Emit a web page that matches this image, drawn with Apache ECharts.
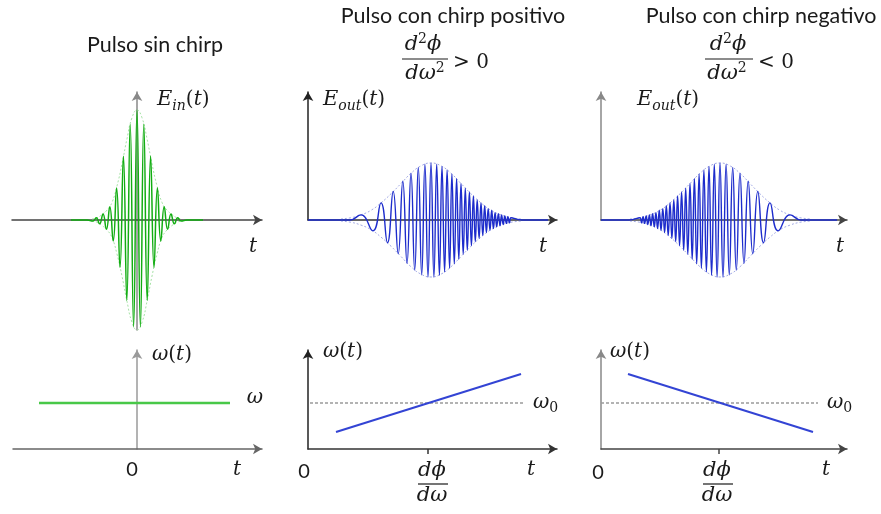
<!DOCTYPE html>
<html><head><meta charset="utf-8">
<script src="https://cdn.jsdelivr.net/npm/echarts@6/dist/echarts.min.js"></script>
<style>html,body{margin:0;padding:0;background:#fff}#c{width:881px;height:514px}</style>
</head><body><div id="c"></div>
<script>
// ===== DATA =====
// Pulse without chirp: times of oscillation extrema and signed amplitudes
const inT = [-66, -50, -44.2, -40.8, -37.4, -34.0, -30.6, -27.2, -23.8, -20.4, -17.0, -13.6, -10.2, -6.8, -3.4, 0, 3.4, 6.8, 10.2, 13.6, 17.0, 20.4, 23.8, 27.2, 30.6, 34.0, 37.4, 40.8, 44.2, 50, 66];
const inE = [0, 0, -0.01, 0.02, -0.035, 0.055, -0.085, 0.12, -0.19, 0.29, -0.43, 0.58, -0.73, 0.87, -0.97, 1.00, -0.97, 0.87, -0.73, 0.58, -0.43, 0.29, -0.19, 0.12, -0.085, 0.055, -0.035, 0.02, -0.01, 0, 0];
const inEnvT = [-45, -40, -35, -30, -25, -20, -15, -10, -5, 0, 5, 10, 15, 20, 25, 30, 35, 40, 45];
const inEnv = [0.01, 0.02, 0.05, 0.09, 0.16, 0.31, 0.51, 0.74, 0.93, 1.00, 0.93, 0.74, 0.51, 0.31, 0.16, 0.09, 0.05, 0.02, 0.01];

// Positive chirp pulse: extrema times and signed amplitudes
const posT = [0, 42, 53.0, 64.9, 73.0, 79.5, 85.2, 90.2, 94.8, 99.0, 103.0, 106.7, 110.3, 113.7, 116.9, 120.0, 123.0, 125.9, 128.7, 131.4, 134.0, 136.6, 139.1, 141.6, 143.9, 146.3, 148.6, 150.8, 153.0, 155.2, 157.3, 159.3, 161.4, 163.4, 165.4, 167.3, 169.2, 171.1, 173.0, 174.8, 176.7, 178.4, 180.2, 182.0, 183.7, 185.4, 187.1, 188.7, 190.4, 192.0, 193.6, 195.2, 196.8, 198.4, 199.9, 201.5, 203.0, 214, 240];
const posE = [0, 0, 0.09, -0.19, 0.30, -0.40, 0.50, -0.59, 0.68, -0.76, 0.82, -0.88, 0.92, -0.96, 0.98, -1.00, 1.00, -1.00, 0.98, -0.97, 0.94, -0.91, 0.88, -0.85, 0.81, -0.77, 0.73, -0.69, 0.64, -0.60, 0.56, -0.53, 0.49, -0.45, 0.42, -0.38, 0.35, -0.32, 0.30, -0.27, 0.25, -0.22, 0.20, -0.18, 0.17, -0.15, 0.13, -0.12, 0.11, -0.10, 0.09, -0.08, 0.07, -0.06, 0.06, -0.05, 0.04, 0, 0];
const posEnvT = [33, 43, 53, 63, 73, 83, 93, 103, 113, 123, 133, 143, 153, 163, 173, 183, 193, 203, 213];

// Negative chirp pulse: extrema times and signed amplitudes
const negT = [0, 28, 39.0, 40.5, 42.1, 43.6, 45.2, 46.8, 48.4, 50.0, 51.6, 53.3, 54.9, 56.6, 58.3, 60.0, 61.8, 63.6, 65.3, 67.2, 69.0, 70.9, 72.8, 74.7, 76.6, 78.6, 80.6, 82.7, 84.7, 86.8, 89.0, 91.2, 93.4, 95.7, 98.1, 100.4, 102.9, 105.4, 108.0, 110.6, 113.3, 116.1, 119.0, 122.0, 125.1, 128.3, 131.7, 135.3, 139.0, 143.0, 147.2, 151.8, 156.8, 162.5, 169.0, 177.1, 189.0, 200, 236];
const negE = [0, 0, 0.04, -0.05, 0.06, -0.06, 0.07, -0.08, 0.09, -0.10, 0.11, -0.12, 0.13, -0.15, 0.17, -0.18, 0.20, -0.22, 0.25, -0.27, 0.30, -0.32, 0.35, -0.38, 0.42, -0.45, 0.49, -0.53, 0.56, -0.60, 0.64, -0.69, 0.73, -0.77, 0.81, -0.85, 0.88, -0.91, 0.94, -0.97, 0.98, -1.00, 1.00, -1.00, 0.98, -0.96, 0.92, -0.88, 0.82, -0.76, 0.68, -0.59, 0.50, -0.40, 0.30, -0.19, 0.09, 0, 0];
const negEnvT = [29, 39, 49, 59, 69, 79, 89, 99, 109, 119, 129, 139, 149, 159, 169, 179, 189, 199, 209];
const chirpEnv = [0.02, 0.04, 0.09, 0.17, 0.30, 0.46, 0.64, 0.82, 0.95, 1.00, 0.95, 0.82, 0.64, 0.46, 0.30, 0.17, 0.09, 0.04, 0.02];

// Instantaneous frequency panels
const flatT = [-98, 93];      const flatW = [1, 1];
const upT = [28, 213];        const upW = [0.37, 1.63];
const upRefT = [2, 215];      const refW = [1, 1];
const downT = [27, 212];      const downW = [1.63, 0.37];
const downRefT = [0, 217];
const tickPos = [120, 118];   // position of dϕ/dω on the time axes

// ===== BUILD =====
const pair = (xs, ys) => xs.map((x, i) => [x, ys[i]]);
const neg = a => a.map(v => -v);

const GREEN = '#12ad12', GREEN_L = '#48c848', BLUE = '#1d2ccc', BLUE_L = '#3344d4';
const grids = [
  {left: 12, top: 92, width: 250, height: 238},
  {left: 308, top: 92, width: 249, height: 128},
  {left: 601, top: 92, width: 246, height: 128},
  {left: 13, top: 350, width: 249, height: 99},
  {left: 308, top: 350, width: 249, height: 99},
  {left: 601, top: 350, width: 246, height: 99}
];
const xr = [[-125, 125], [0, 249], [0, 246], [-124, 125], [0, 249], [0, 246]];
const yr = [[-1, 1.164], [0, 2.246], [0, 2.246], [0, 2.15], [0, 2.15], [0, 2.15]];
const xc = ['#444', '#333', '#444', '#666', '#333', '#444'];
const yc = ['#888', '#222', '#888', '#9a9a9a', '#222', '#888'];

function axisLine(color) {
  return {show: true, onZero: true, symbol: ['none', 'arrow'], symbolSize: [8, 9], lineStyle: {color: color, width: 1.5}};
}
const xAxis = grids.map((g, i) => ({
  gridIndex: i, type: 'value', min: xr[i][0], max: xr[i][1],
  axisLine: axisLine(xc[i]),
  axisTick: (i === 4 || i === 5) ? {show: true, customValues: [tickPos[i - 4]], length: 5, lineStyle: {color: xc[i], width: 1.5}} : {show: false},
  axisLabel: {show: false}, splitLine: {show: false}
}));
const yAxis = grids.map((g, i) => ({
  gridIndex: i, type: 'value', min: yr[i][0], max: yr[i][1],
  axisLine: axisLine(yc[i]),
  axisTick: {show: false}, axisLabel: {show: false}, splitLine: {show: false}
}));

function line(idx, data, color, width, extra) {
  return Object.assign({
    type: 'line', xAxisIndex: idx, yAxisIndex: idx, data: data, showSymbol: false,
    smooth: true, clip: false, silent: true,
    lineStyle: {color: color, width: width}
  }, extra || {});
}
const envStyle = (c) => ({lineStyle: {color: c, width: 1, type: [2, 2]}, smooth: true});

const series = [
  line(0, pair(inEnvT, inEnv), '#a6e3a6', 1, envStyle('#a6e3a6')),
  line(0, pair(inEnvT, neg(inEnv)), '#a6e3a6', 1, envStyle('#a6e3a6')),
  line(0, pair(inT, inE), GREEN, 1.5),
  line(1, pair(posEnvT, chirpEnv), '#a3aae6', 1, envStyle('#a3aae6')),
  line(1, pair(posEnvT, neg(chirpEnv)), '#a3aae6', 1, envStyle('#a3aae6')),
  line(1, pair(posT, posE), BLUE, 1.4),
  line(2, pair(negEnvT, chirpEnv), '#a3aae6', 1, envStyle('#a3aae6')),
  line(2, pair(negEnvT, neg(chirpEnv)), '#a3aae6', 1, envStyle('#a3aae6')),
  line(2, pair(negT, negE), BLUE, 1.4),
  line(3, pair(flatT, flatW), GREEN_L, 2.5, {smooth: false}),
  line(4, pair(upRefT, refW), '#999', 1.5, {smooth: false, lineStyle: {color: '#9a9a9a', width: 1.5, type: [3, 2]}}),
  line(4, pair(upT, upW), BLUE_L, 2, {smooth: false}),
  line(5, pair(downRefT, refW), '#999', 1.5, {smooth: false, lineStyle: {color: '#9a9a9a', width: 1.5, type: [3, 2]}}),
  line(5, pair(downT, downW), BLUE_L, 2, {smooth: false})
];

// ===== TEXT =====
const SERIF = 'DejaVu Serif';
const TXT = '#1a1a1a';
const it = (sz) => ({fontFamily: SERIF, fontStyle: 'italic', fontSize: sz, fill: TXT, color: TXT});
const up = (sz) => ({fontFamily: SERIF, fontStyle: 'normal', fontSize: sz, fill: TXT, color: TXT});
const pad = (o, p) => Object.assign(o, {padding: p});

function T(x, y, text, font, align, rich) {
  const st = {text: text, x: x, y: y, textAlign: align || 'center', textVerticalAlign: 'middle', fill: TXT};
  if (font) st.font = font;
  if (rich) st.rich = rich;
  return {type: 'text', style: st, silent: true};
}
function L(x1, x2, y) {
  return {type: 'line', shape: {x1: x1, y1: y, x2: x2, y2: y}, style: {stroke: TXT, lineWidth: 1.2}, silent: true};
}
const mathRich = {
  e: it(21), s: pad(it(14), [12, 0, 0, 0]), p: up(20), t: it(20), w: it(20),
  z: pad(up(14), [11, 0, 0, 0]), r: up(20), f: it(21), sp: pad(up(14), [0, 0, 11, 0])
};
const graphic = [
  T(155, 45, 'Pulso sin chirp', '21.5px Lato'),
  T(453, 16, 'Pulso con chirp positivo', '21.5px Lato'),
  T(761, 16, 'Pulso con chirp negativo', '21.5px Lato'),
  // fractions d²ϕ/dω²
  T(423, 45, '{f|d}{sp|2}{f|ϕ}', null, 'center', mathRich), L(402, 448, 59), T(425, 74, '{f|dω}{sp|2}', null, 'center', mathRich),
  T(471, 63, '{r|> 0}', null, 'center', mathRich),
  T(728, 45, '{f|d}{sp|2}{f|ϕ}', null, 'center', mathRich), L(705, 753, 59), T(727, 74, '{f|dω}{sp|2}', null, 'center', mathRich),
  T(776, 63, '{r|< 0}', null, 'center', mathRich),
  // axis names
  T(157, 100, '{e|E}{s|in}{p|(}{t|t}{p|)}', null, 'left', mathRich),
  T(323, 100, '{e|E}{s|out}{p|(}{t|t}{p|)}', null, 'left', mathRich),
  T(637, 100, '{e|E}{s|out}{p|(}{t|t}{p|)}', null, 'left', mathRich),
  T(253, 247, '{t|t}', null, 'center', mathRich),
  T(543, 247, '{t|t}', null, 'center', mathRich),
  T(840, 247, '{t|t}', null, 'center', mathRich),
  T(152, 355, '{w|ω}{p|(}{t|t}{p|)}', null, 'left', mathRich),
  T(323, 352, '{w|ω}{p|(}{t|t}{p|)}', null, 'left', mathRich),
  T(610, 352, '{w|ω}{p|(}{t|t}{p|)}', null, 'left', mathRich),
  T(255, 398, '{w|ω}', null, 'center', mathRich),
  T(533, 403, '{w|ω}{z|0}', null, 'left', mathRich),
  T(827, 403, '{w|ω}{z|0}', null, 'left', mathRich),
  T(132, 470, '0', '20px Lato'),
  T(304, 472, '0', '20px Lato'),
  T(598, 473, '0', '20px Lato'),
  T(237, 470, '{t|t}', null, 'center', mathRich),
  T(531, 470, '{t|t}', null, 'center', mathRich),
  T(826, 470, '{t|t}', null, 'center', mathRich),
  T(432, 471, '{f|dϕ}', null, 'center', mathRich), L(418, 448, 484), T(432, 496, '{f|dω}', null, 'center', mathRich),
  T(717, 471, '{f|dϕ}', null, 'center', mathRich), L(703, 733, 484), T(717, 496, '{f|dω}', null, 'center', mathRich)
];

const chart = echarts.init(document.getElementById('c'), null, {renderer: 'canvas'});
chart.setOption({
  animation: false,
  backgroundColor: '#fff',
  grid: grids.map(g => Object.assign({containLabel: false}, g)),
  xAxis: xAxis, yAxis: yAxis, series: series, graphic: graphic
});
</script></body></html>
